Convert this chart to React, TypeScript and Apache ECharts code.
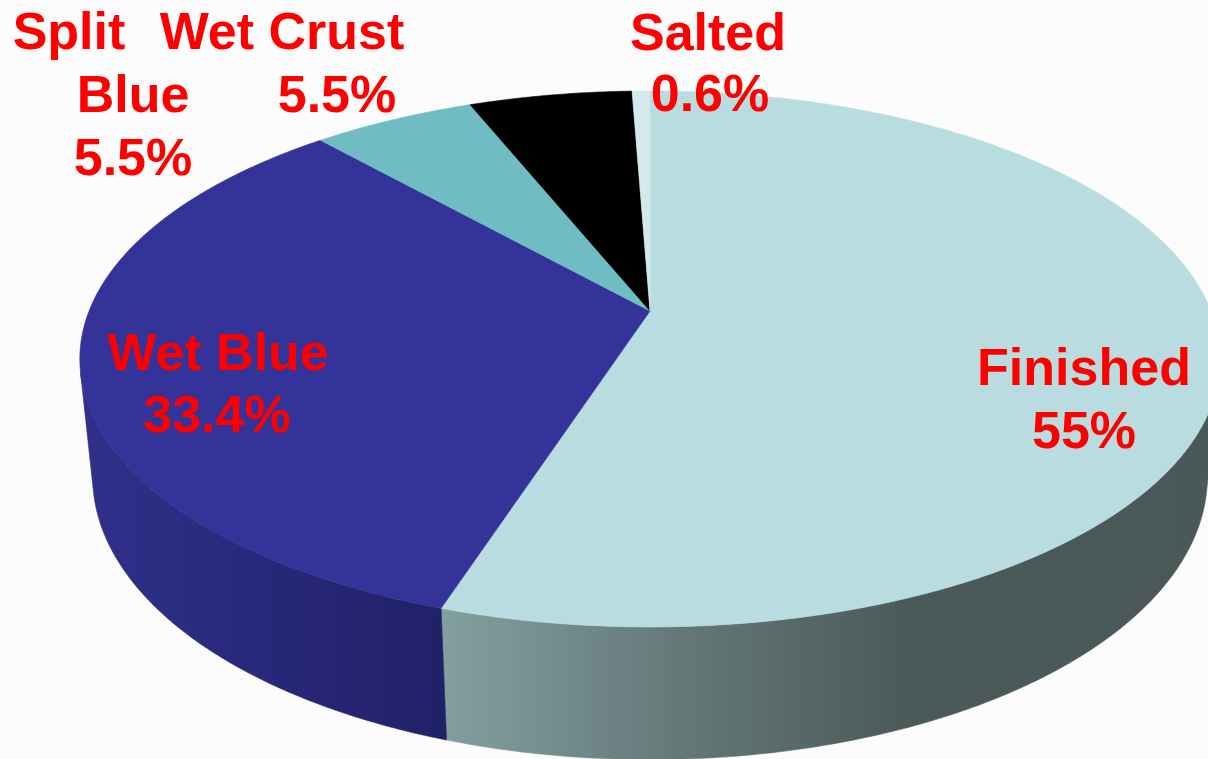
import React, { useEffect, useRef } from "react";
import * as echarts from "echarts";

// ---- data ----
const names = ["Finished", "Wet Blue", "Split Blue", "Wet Crust", "Salted"];
const values = [55, 33.4, 5.5, 5.5, 0.6];
const topColors = ["#B8DCDF", "#333399", "#70BCC3", "#000000", "#D4E9EB"];

// label lines: [slice index, text kind, line index]
const labelLines: string[][] = [
  ["Finished", "55%"],
  ["Wet Blue", "33.4%"],
  ["Split", "Blue", "5.5%"],
  ["Wet Crust", "5.5%"],
  ["Salted", "0.6%"],
];
// label line anchor (center x, baseline y)
const labelPos: number[][][] = [
  [[1084, 385], [1084, 448]],
  [[218, 370], [217, 432]],
  [[69, 49], [133, 112], [133, 175]],
  [[282, 49], [337, 112]],
  [[708, 50], [710, 111]],
];

// ---- 3D projection ----
const CX = 650;
const CY = 311;
const F = 2779;
const D = 4.954;
const SPHI = 0.4624;
const CPHI = Math.sqrt(1 - SPHI * SPHI);
const H = 0.239;

function proj(X: number, Y: number, Z: number): number[] {
  const yc = Y * CPHI + Z * SPHI;
  const zc = -Y * SPHI + Z * CPHI + D;
  return [CX + (F * X) / zc, CY - (F * yc) / zc];
}
const rad = (d: number) => (d * Math.PI) / 180;

function arc(a0: number, a1: number, Y: number): number[][] {
  const pts: number[][] = [];
  const n = Math.max(2, Math.ceil(Math.abs(a1 - a0) / 0.5));
  for (let i = 0; i <= n; i++) {
    const t = rad(a0 + ((a1 - a0) * i) / n);
    pts.push(proj(Math.cos(t), Y, Math.sin(t)));
  }
  return pts;
}

const sideGradients = [
  [
    [0, "#849F9F"],
    [0.3, "#657979"],
    [0.6, "#4B5959"],
    [1, "#4A5858"],
  ],
  [
    [0, "#30308A"],
    [0.5, "#28287A"],
    [1, "#212168"],
  ],
  [[0, "#4E8C92"], [1, "#3E7075"]],
  [[0, "#000000"], [1, "#000000"]],
  [[0, "#9DB0B2"], [1, "#8FA0A2"]],
];

export default function App() {
  const ref = useRef<HTMLDivElement>(null);
  useEffect(() => {
    if (!ref.current) return;
    const chart = echarts.init(ref.current, undefined, { renderer: "svg" });
    const total = values.reduce((a, b) => a + b, 0);
    const starts: number[] = [];
    let cum = 0;
    values.forEach((v) => {
      starts.push(90 - (360 * cum) / total);
      cum += v;
    });
    const tv = (Math.asin(1 / (D * CPHI)) * 180) / Math.PI;
    const visLo = 180 + tv;
    const visHi = 360 - tv;

    const renderItem = (params: any, api: any) => {
      const i = params.dataIndex;
      const v = api.value(0);
      const a0 = starts[i];
      const a1 = a0 - (360 * v) / total;
      const children: any[] = [];
      // walls
      for (let m = -2; m <= 1; m++) {
        const lo = Math.max(a1, visLo + 360 * m);
        const hi = Math.min(a0, visHi + 360 * m);
        if (lo < hi) {
          const pts = arc(lo, hi, 0).concat(arc(hi, lo, -H));
          const stops = sideGradients[i].map((s) => ({ offset: s[0] as number, color: s[1] as string }));
          const grad = new echarts.graphic.LinearGradient(0, 0, 1, 0, stops);
          children.push({
            type: "polygon",
            z2: 1,
            shape: { points: pts },
            style: { fill: grad, stroke: grad, lineWidth: 0.6 },
          });
        }
      }
      // top face
      const topPts = [proj(0, 0, 0)].concat(arc(a0, a1, 0));
      children.push({
        type: "polygon",
        z2: 5,
        shape: { points: topPts },
        style: { fill: topColors[i], stroke: topColors[i], lineWidth: 0.6 },
      });
      return { type: "group", children };
    };

    const graphic: any[] = [];
    labelLines.forEach((lines, i) => {
      lines.forEach((txt, j) => {
        const p = labelPos[i][j];
        graphic.push({
          type: "text",
          x: p[0],
          y: p[1] - 18,
          z: 100,
          style: {
            text: txt,
            fill: "#FF0000",
            fontFamily: '"Liberation Sans", Arial, sans-serif',
            fontWeight: "bold",
            fontSize: 52,
            align: "center",
            verticalAlign: "middle",
          },
        });
      });
    });

    chart.setOption({
      animation: false,
      backgroundColor: "#FCFCFC",
      series: [
        {
          type: "custom",
          coordinateSystem: "none",
          silent: true,
          renderItem,
          data: values.map((v, i) => ({ value: [v], name: names[i] })),
        },
      ],
      graphic,
    });
    return () => chart.dispose();
  }, []);
  return (
    <div
      ref={ref}
      style={{ position: "absolute", left: 0, top: 0, width: 1208, height: 759 }}
    />
  );
}
